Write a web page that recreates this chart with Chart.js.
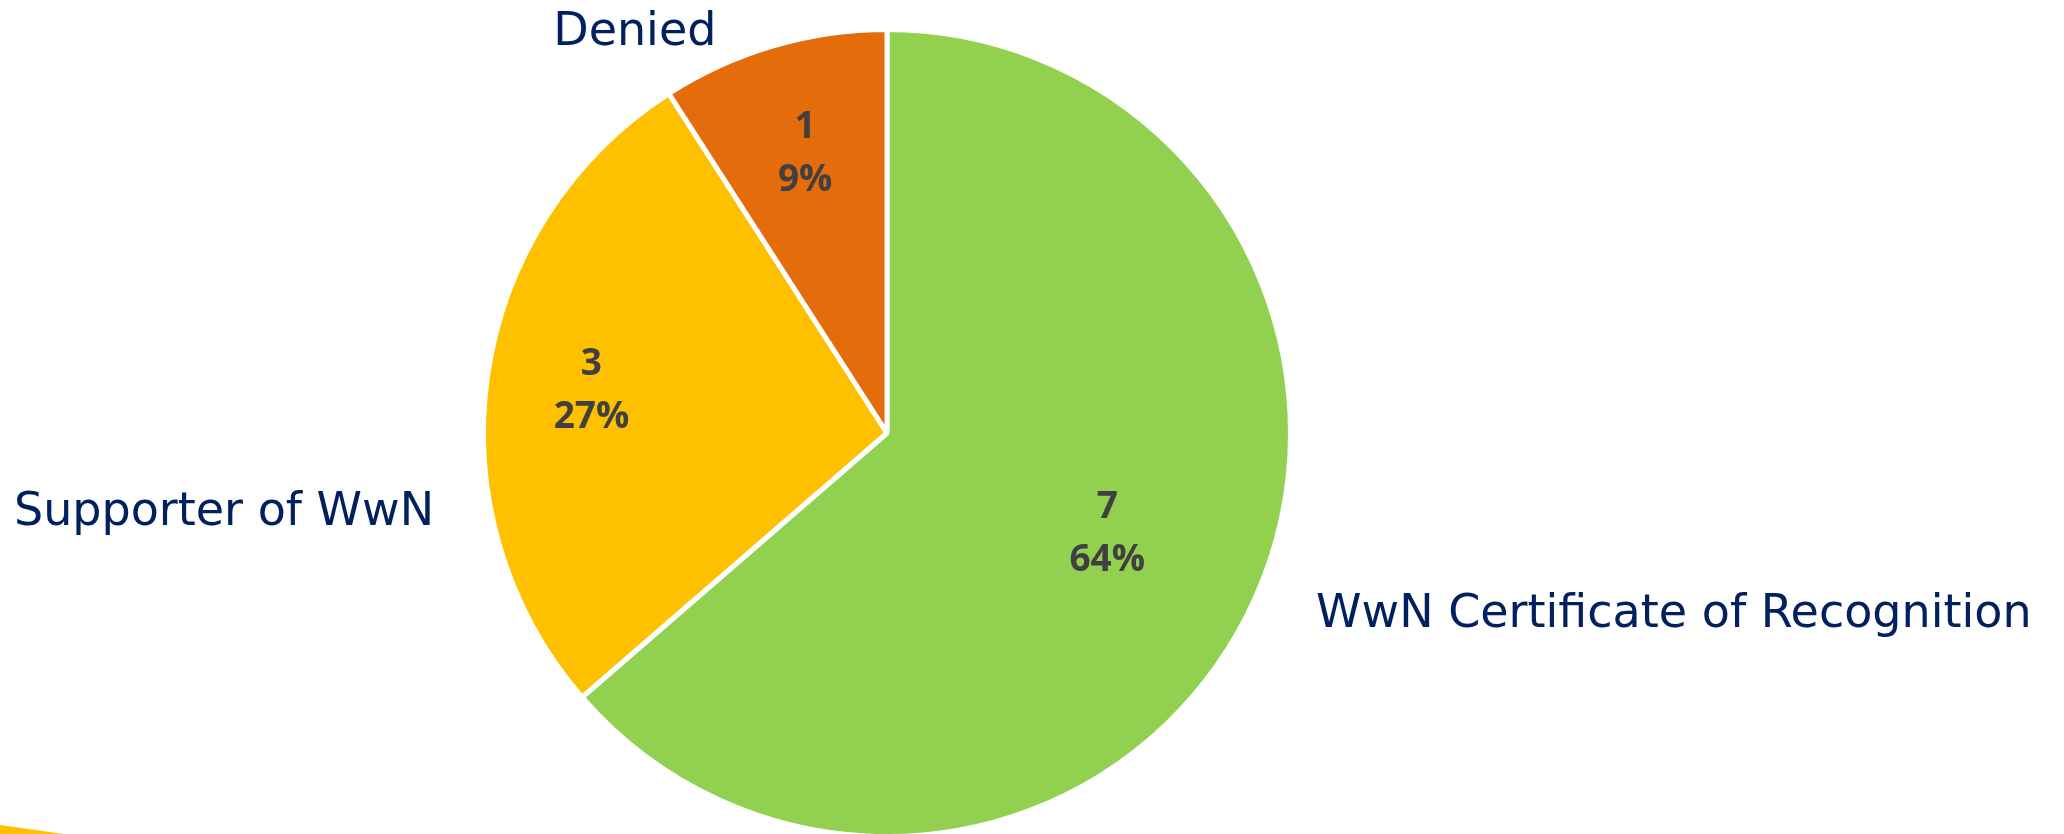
<!DOCTYPE html>
<html>
<head>
<meta charset="utf-8">
<script src="https://cdn.jsdelivr.net/npm/chart.js@4.4.1/dist/chart.umd.min.js"></script>
<style>
  html, body { margin: 0; padding: 0; background: #ffffff; overflow: hidden; }
  #wrap { position: relative; width: 2064px; height: 834px; overflow: hidden; }
  #c { position: absolute; left: 0; top: 0; }
  #deco { position: absolute; left: 0; top: 822px; width: 64px; height: 12px; background: #FFC000;
          clip-path: polygon(0 25%, 100% 100%, 0 100%); }
</style>
</head>
<body>
<div id="wrap">
  <canvas id="c" width="2064" height="900"></canvas>
  <div id="deco"></div>
</div>
<script>
// ---- data ----
const categories = ["WwN Certificate of Recognition", "Supporter of WwN", "Denied"];
const values = [7, 3, 1];
const colors = ["#92D050", "#FFC000", "#E46C0A"];

const total = values.reduce((a, b) => a + b, 0);
const percents = values.map(v => Math.round(v / total * 100) + "%");

const sliceLabels = {
  id: 'sliceLabels',
  afterDatasetsDraw(chart, args, opts) {
    const ctx = chart.ctx;
    const meta = chart.getDatasetMeta(0);
    ctx.save();
    ctx.textAlign = 'center';
    ctx.textBaseline = 'middle';
    ctx.fillStyle = '#404040';
    ctx.font = 'bold 37px "Open Sans", "Liberation Sans", sans-serif';
    let cx0 = 0, cy0 = 0, R = 0;
    meta.data.forEach((arc, i) => {
      const p = arc.getProps(['x', 'y', 'startAngle', 'endAngle', 'outerRadius'], true);
      cx0 = p.x; cy0 = p.y; R = p.outerRadius;
      const mid = (p.startAngle + p.endAngle) / 2;
      const r = p.outerRadius * opts.radial[i];
      const x = p.x + Math.cos(mid) * r;
      const y = p.y + Math.sin(mid) * r;
      ctx.fillText(String(values[i]), x, y - opts.lineGap / 2);
      ctx.fillText(percents[i], x, y + opts.lineGap / 2);
    });
    // category names outside the pie
    ctx.fillStyle = '#002060';
    ctx.font = '46px "DejaVu Sans", sans-serif';
    ctx.textBaseline = 'alphabetic';
    categories.forEach((name, i) => {
      const o = opts.outside[i];
      ctx.fillText(name, cx0 + o[0] * R, cy0 + o[1] * R);
    });
    ctx.restore();
  }
};

new Chart(document.getElementById('c'), {
  type: 'pie',
  data: {
    labels: categories,
    datasets: [{
      data: values,
      backgroundColor: colors,
      borderColor: '#ffffff',
      borderWidth: 5,
      hoverBorderWidth: 5,
      hoverOffset: 0
    }]
  },
  options: {
    responsive: false,
    animation: false,
    events: [],
    layout: { padding: { left: 481, right: 771, top: 27, bottom: 61 } },
    plugins: {
      legend: { display: false },
      tooltip: { enabled: false },
      sliceLabels: {
        radial: [0.60, 0.74, 0.72],
        lineGap: 53,
        outside: [[1.950, 0.481], [-1.643, 0.228], [-0.625, -0.962]]
      }
    }
  },
  plugins: [sliceLabels]
});
</script>
</body>
</html>
